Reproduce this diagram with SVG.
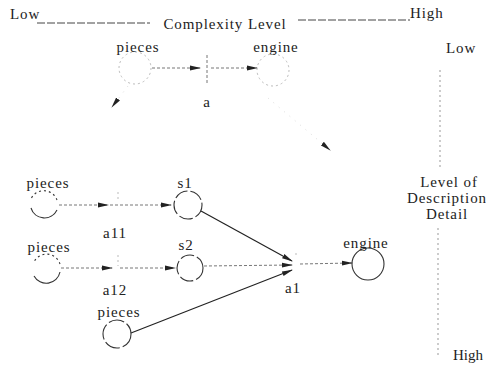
<svg xmlns="http://www.w3.org/2000/svg" width="486" height="365" viewBox="0 0 486 365">
<defs>
<marker id="ah" markerWidth="11" markerHeight="6" refX="10" refY="3" orient="auto" markerUnits="userSpaceOnUse">
<path d="M0,0.6 L11,3 L0,5.4 Z" fill="#222"/>
</marker>
<style>
text{font-family:"Liberation Serif",serif;font-size:15px;fill:#222;letter-spacing:0.9px}
.c{text-anchor:middle}
.e{text-anchor:end;letter-spacing:0}
.node{fill:none;stroke:#333;stroke-width:1.1}
.faint{fill:none;stroke:#bbb;stroke-width:1;stroke-dasharray:2 3}
.ghost{fill:none;stroke:#ddd;stroke-width:1;stroke-dasharray:1 6}
.dot{fill:none;stroke:#777;stroke-width:1;stroke-dasharray:3 2}
.solid{fill:none;stroke:#222;stroke-width:1.2}
.axis{fill:none;stroke:#444;stroke-width:1;stroke-dasharray:8 2}
.vaxis{fill:none;stroke:#999;stroke-width:1;stroke-dasharray:2 3}
</style>
</defs>
<rect width="486" height="365" fill="#fff"/>
<g id="axes">
<text x="10" y="19">Low</text>
<line class="axis" x1="37" y1="23" x2="150" y2="23"/>
<text class="c" x="225" y="29">Complexity Level</text>
<line class="axis" x1="298" y1="20" x2="410" y2="20"/>
<text x="410" y="18">High</text>
<text x="446" y="53">Low</text>
<line class="vaxis" x1="440" y1="70" x2="440" y2="170"/>
<text class="c" x="449" y="187">Level of</text>
<text class="c" x="447" y="203">Description</text>
<text class="c" x="447" y="219">Detail</text>
<line class="vaxis" x1="438" y1="228" x2="438" y2="355"/>
<text class="e" x="483" y="360">High</text>
</g>
<g id="connectors">
<line class="dot" x1="152" y1="68" x2="200" y2="68" marker-end="url(#ah)"/>
<line class="dot" x1="207" y1="55" x2="207" y2="83"/>
<line class="dot" x1="211" y1="68" x2="257" y2="68" marker-end="url(#ah)"/>
<line class="ghost" x1="128" y1="86" x2="112" y2="107" marker-end="url(#ah)"/>
<line class="ghost" x1="268" y1="98" x2="330" y2="150" marker-end="url(#ah)"/>
<line class="dot" x1="59" y1="205" x2="108" y2="205" marker-end="url(#ah)"/>
<line class="faint" x1="118" y1="192" x2="118" y2="200"/>
<line class="dot" x1="110" y1="205" x2="171" y2="205" marker-end="url(#ah)"/>
<line class="dot" x1="61" y1="268" x2="112" y2="268" marker-end="url(#ah)"/>
<line class="faint" x1="118" y1="255" x2="118" y2="266"/>
<line class="dot" x1="120" y1="268" x2="175" y2="268" marker-end="url(#ah)"/>
<line class="solid" x1="201" y1="211" x2="292" y2="261" marker-end="url(#ah)"/>
<line class="dot" x1="204" y1="266" x2="292" y2="265" marker-end="url(#ah)"/>
<line class="solid" x1="131" y1="333" x2="292" y2="270" marker-end="url(#ah)"/>
<line class="faint" x1="296" y1="253" x2="296" y2="257"/>
<line class="dot" x1="300" y1="264" x2="352" y2="263" marker-end="url(#ah)"/>
</g>
<g id="pieces-top">
<circle class="faint" cx="135" cy="68" r="16"/>
<text class="c" x="138" y="52">pieces</text>
</g>
<g id="engine-top">
<circle class="faint" cx="273" cy="70" r="16"/>
<text class="c" x="276" y="52">engine</text>
</g>
<g id="a-label"><text class="c" x="207" y="107">a</text></g>
<g id="pieces1">
<path class="node" d="M31,208 A14,14 0 0,0 57,210"/>
<path class="node" stroke-dasharray="2 3" d="M57,200 A14,14 0 0,0 31,199"/>
<text class="c" x="48" y="188">pieces</text>
</g>
<g id="s1">
<circle class="node" cx="188" cy="205" r="14" stroke-dasharray="14 3"/>
<text class="c" x="185" y="188">s1</text>
</g>
<g id="a11"><text class="c" x="115" y="238">a11</text></g>
<g id="pieces2">
<path class="node" d="M34,276 A14,14 0 0,0 60,272"/>
<path class="node" stroke-dasharray="2 3" d="M60,264 A14,14 0 0,0 34,262"/>
<text class="c" x="49" y="252">pieces</text>
</g>
<g id="s2">
<circle class="node" cx="190" cy="268" r="13" stroke-dasharray="14 3"/>
<text class="c" x="186" y="250">s2</text>
</g>
<g id="a12"><text class="c" x="115" y="295">a12</text></g>
<g id="pieces3">
<circle class="node" cx="117" cy="334" r="14" stroke-dasharray="16 3"/>
<text class="c" x="119" y="317">pieces</text>
</g>
<g id="a1"><text class="c" x="293" y="293">a1</text></g>
<g id="engine">
<circle class="node" cx="368" cy="264" r="16"/>
<text class="c" x="366" y="248">engine</text>
</g>
</svg>
